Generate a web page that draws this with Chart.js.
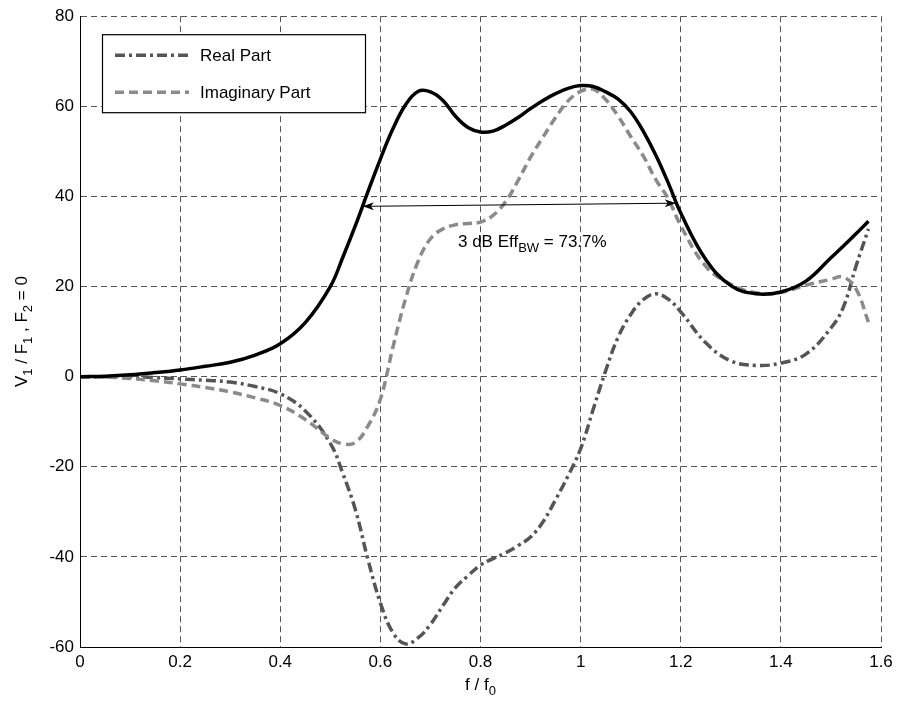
<!DOCTYPE html>
<html>
<head>
    <title>V1 / F1 response</title>
    <script src="https://cdn.jsdelivr.net/npm/chart.js"></script>
    <style>
        body { margin: 0; background: #fff; }
    </style>
</head>
<body>
    <canvas id="response_chart" width="899" height="701"></canvas>
    <script>
        // f / f0 sample points
        const freq = [0, 0.05, 0.1, 0.15, 0.2, 0.25, 0.3, 0.35, 0.4, 0.45, 0.5, 0.525, 0.55, 0.575,
            0.6, 0.625, 0.65, 0.675, 0.7, 0.725, 0.75, 0.775, 0.8, 0.825, 0.85, 0.875, 0.9, 0.925,
            0.95, 0.975, 1.0, 1.025, 1.05, 1.075, 1.1, 1.125, 1.15, 1.175, 1.2, 1.25, 1.3, 1.35,
            1.4, 1.45, 1.5, 1.525, 1.55, 1.575];

        const magnitude = [0, 0.1, 0.4, 0.9, 1.5, 2.3, 3.2, 4.8, 7.3, 12, 20, 26.5, 33.5, 41,
            48.3, 55, 60.3, 63.3, 63.2, 61.3, 57.8, 55.3, 54.3, 54.5, 55.8, 57.5, 59.5, 61.3,
            62.8, 64.0, 64.6, 64.4, 63.2, 61.6, 58.8, 54.5, 49.2, 43.0, 36.3, 26.0, 20.2, 18.4,
            18.8, 21.2, 26.4, 29.0, 31.7, 34.5];

        const realPart = [0, 0, 0, -0.2, -0.5, -0.8, -1.2, -2.2, -3.8, -7.6, -14.8, -21.5, -29.5, -40.5,
            -50.2, -56.8, -59.3, -58.0, -55.0, -50.8, -46.8, -44.2, -41.8, -40.4, -39.1, -37.5, -35.6, -32.2,
            -27.3, -22.0, -16.0, -7.3, 1.3, 8.8, 13.8, 17.1, 18.4, 17.2, 14.4, 7.5, 3.5, 2.5,
            3.0, 5.0, 10.8, 15.5, 24.5, 32.8];

        const imagPart = [0, -0.1, -0.4, -0.9, -1.6, -2.4, -3.4, -4.7, -6.4, -9.5, -13.7, -14.9, -14.6, -11,
            -5, 6.5, 17.2, 25.5, 30.6, 32.8, 33.7, 34.0, 34.3, 35.8, 38.8, 43.5, 48.7, 53.2,
            57.5, 61.2, 63.3, 63.8, 61.5, 57.8, 53.3, 49.0, 43.8, 39.5, 33.5, 24.5, 20.5, 18.6,
            18.7, 20.3, 21.6, 22.1, 19.5, 12.1];

        // 3 dB bandwidth arrow ends and label
        const bwStart = [0.565, 37.8];
        const bwEnd = [1.19, 38.5];
        const bwLabelPos = [0.755, 28.8];

        const FONT = '"Liberation Sans", Arial, Helvetica, sans-serif';
        const MAIN = 17, SUB = 13;

        function toPoints(values) {
            return values.map((v, i) => ({ x: freq[i], y: v }));
        }

        // draw text made of plain and subscript pieces
        function drawRich(ctx, parts, x, y, align) {
            let total = 0;
            parts.forEach(p => {
                ctx.font = (p.sub ? SUB : MAIN) + 'px ' + FONT;
                total += ctx.measureText(p.t).width;
            });
            let cx = align === 'center' ? x - total / 2 : x;
            parts.forEach(p => {
                ctx.font = (p.sub ? SUB : MAIN) + 'px ' + FONT;
                ctx.fillText(p.t, cx, p.sub ? y + 5 : y);
                cx += ctx.measureText(p.t).width;
            });
        }

        function arrowHead(ctx, x, y, dir) {
            ctx.beginPath();
            ctx.moveTo(x, y);
            ctx.lineTo(x - dir * 11, y - 4);
            ctx.lineTo(x - dir * 8, y);
            ctx.lineTo(x - dir * 11, y + 4);
            ctx.closePath();
            ctx.fill();
        }

        const decorations = {
            id: 'decorations',
            afterDatasetsDraw(chart) {
                const ctx = chart.ctx;
                const xs = chart.scales.x, ys = chart.scales.y;
                const area = chart.chartArea;
                ctx.save();
                ctx.fillStyle = '#000';
                ctx.strokeStyle = '#000';
                ctx.textBaseline = 'alphabetic';

                // bandwidth arrow
                const x1 = xs.getPixelForValue(bwStart[0]), y1 = ys.getPixelForValue(bwStart[1]);
                const x2 = xs.getPixelForValue(bwEnd[0]), y2 = ys.getPixelForValue(bwEnd[1]);
                ctx.lineWidth = 1;
                ctx.beginPath();
                ctx.moveTo(x1, y1);
                ctx.lineTo(x2, y2);
                ctx.stroke();
                arrowHead(ctx, x1, y1, -1);
                arrowHead(ctx, x2, y2, 1);

                drawRich(ctx, [{ t: '3 dB Eff' }, { t: 'BW', sub: true }, { t: ' = 73.7%' }],
                    xs.getPixelForValue(bwLabelPos[0]), ys.getPixelForValue(bwLabelPos[1]), 'left');

                // legend box
                const lx = area.left + 22, ly = area.top + 18;
                ctx.fillStyle = '#fff';
                ctx.fillRect(lx, ly, 263, 78);
                ctx.lineWidth = 1.2;
                ctx.strokeRect(lx + 0.5, ly + 0.5, 263, 78);
                const entries = chart.data.datasets.filter(d => d.showInLegend);
                entries.forEach((d, i) => {
                    const cy = ly + 21 + i * 37;
                    ctx.save();
                    ctx.strokeStyle = d.borderColor;
                    ctx.lineWidth = d.borderWidth;
                    ctx.setLineDash(d.borderDash || []);
                    ctx.beginPath();
                    ctx.moveTo(lx + 13, cy);
                    ctx.lineTo(lx + 87, cy);
                    ctx.stroke();
                    ctx.restore();
                    ctx.fillStyle = '#000';
                    ctx.font = MAIN + 'px ' + FONT;
                    ctx.textBaseline = 'middle';
                    ctx.fillText(d.label, lx + 98, cy + 1);
                });

                // axis titles
                ctx.textBaseline = 'alphabetic';
                ctx.fillStyle = '#000';
                drawRich(ctx, [{ t: 'f / f' }, { t: '0', sub: true }],
                    (area.left + area.right) / 2, 690, 'center');

                ctx.translate(27, (area.top + area.bottom) / 2);
                ctx.rotate(-Math.PI / 2);
                drawRich(ctx, [{ t: 'V' }, { t: '1', sub: true }, { t: ' / F' }, { t: '1', sub: true },
                    { t: ' , F' }, { t: '2', sub: true }, { t: ' = 0' }], 0, 0, 'center');
                ctx.restore();
            }
        };

        const tickFont = { family: FONT, size: 17 };

        new Chart(document.getElementById('response_chart'), {
            type: 'line',
            data: {
                datasets: [
                    {
                        label: 'Magnitude',
                        data: toPoints(magnitude),
                        borderColor: '#000',
                        borderWidth: 3.5,
                        order: 1
                    },
                    {
                        label: 'Real Part',
                        data: toPoints(realPart),
                        borderColor: '#555',
                        borderWidth: 3.5,
                        borderDash: [10, 4, 3, 4],
                        showInLegend: true,
                        order: 3
                    },
                    {
                        label: 'Imaginary Part',
                        data: toPoints(imagPart),
                        borderColor: '#8a8a8a',
                        borderWidth: 3.5,
                        borderDash: [9, 5],
                        showInLegend: true,
                        order: 2
                    }
                ]
            },
            options: {
                responsive: false,
                animation: false,
                layout: { padding: { top: 14, right: 18, left: 0, bottom: 0 } },
                elements: {
                    point: { radius: 0 },
                    line: { tension: 0.4, fill: false, capBezierPoints: true }
                },
                plugins: {
                    legend: { display: false },
                    tooltip: { enabled: false }
                },
                scales: {
                    x: {
                        type: 'linear',
                        min: 0,
                        max: 1.6,
                        ticks: {
                            stepSize: 0.2,
                            color: '#000',
                            font: tickFont,
                            padding: 5,
                            maxRotation: 0,
                            callback: v => String(Math.round(v * 10) / 10)
                        },
                        grid: { color: '#555', lineWidth: 1, drawTicks: false },
                        border: { display: true, color: '#000', width: 1, dash: [6, 4] },
                        afterFit: s => { s.height = 54; }
                    },
                    y: {
                        min: -60,
                        max: 80,
                        ticks: {
                            stepSize: 20,
                            color: '#000',
                            font: tickFont,
                            padding: 6,
                            callback: v => String(v)
                        },
                        grid: { color: '#555', lineWidth: 1, drawTicks: false },
                        border: { display: true, color: '#000', width: 1, dash: [6, 4] },
                        afterFit: s => { s.width = 80; }
                    }
                }
            },
            plugins: [decorations]
        });
    </script>
</body>
</html>
